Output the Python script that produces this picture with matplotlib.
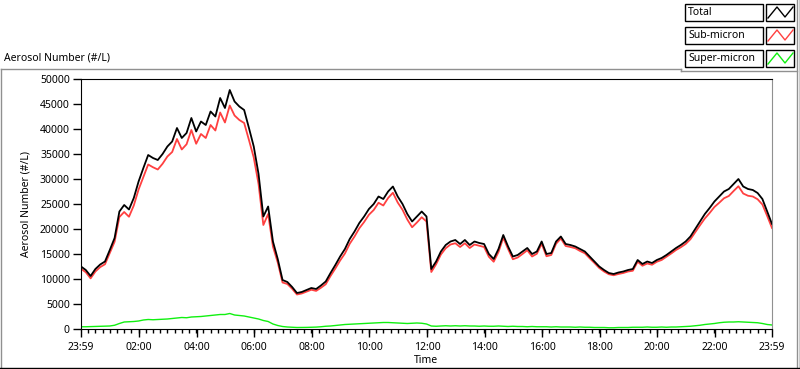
import numpy as np
import matplotlib
matplotlib.use('Agg')
import matplotlib.pyplot as plt
from matplotlib.lines import Line2D
from matplotlib.patches import Rectangle

plt.rcParams['font.family'] = ['Noto Sans', 'DejaVu Sans']

# hours since 23:59, sampled every 10 min
total = [12500, 11800, 10600, 12000, 12900, 13500,
         15800, 18200, 23500, 24800, 23900, 26200,
         29500, 32200, 34800, 34200, 33800, 35000,
         36500, 37500, 40200, 38200, 39200, 42200,
         39500, 41500, 40800, 43500, 42500, 46200,
         44200, 47800, 45500, 44500, 43800, 40200,
         36500, 31000, 22500, 24500, 17500, 14000,
         9800, 9400, 8400, 7200, 7400, 7800,
         8200, 8000, 8700, 9500, 11200, 12800,
         14500, 16000, 18000, 19500, 21200, 22500,
         24000, 25000, 26500, 26000, 27500, 28500,
         26500, 25000, 23000, 21500, 22500, 23500,
         22500, 12000, 13500, 15500, 16800, 17500,
         17800, 17000, 17800, 16800, 17500, 17200,
         17000, 15000, 14000, 16000, 18800, 16500,
         14500, 14800, 15500, 16200, 15000, 15500,
         17500, 15000, 15200, 17500, 18500, 17000,
         16800, 16500, 16000, 15500, 14500, 13500,
         12500, 11800, 11200, 11000, 11300, 11500,
         11800, 12000, 13800, 13000, 13500, 13200,
         13800, 14200, 14800, 15500, 16200, 16800,
         17500, 18500, 20000, 21500, 23000, 24200,
         25500, 26500, 27500, 28000, 29000, 30000,
         28500, 28000, 27800, 27200, 26000, 23500,
         21000]

sub_micron = [12050, 11350, 10120, 11500, 12380, 12950,
              15200, 17450, 22400, 23400, 22450, 24700,
              27900, 30400, 32900, 32350, 31900, 33050,
              34500, 35400, 38000, 35900, 36950, 39800,
              37050, 39000, 38200, 40800, 39700, 43300,
              41300, 44700, 42700, 41800, 41200, 37800,
              34300, 29000, 20800, 23000, 16500, 13300,
              9300, 9000, 8050, 6900, 7100, 7480,
              7850, 7620, 8250, 8950, 10600, 12100,
              13700, 15100, 17050, 18500, 20150, 21400,
              22850, 23800, 25250, 24700, 26200, 27250,
              25300, 23850, 21900, 20350, 21300, 22350,
              21500, 11400, 12950, 14900, 16150, 16900,
              17150, 16400, 17150, 16200, 16900, 16650,
              16400, 14450, 13450, 15400, 18250, 16000,
              13950, 14300, 15000, 15750, 14500, 15050,
              17050, 14550, 14800, 17050, 18100, 16600,
              16400, 16150, 15600, 15150, 14150, 13200,
              12200, 11500, 10950, 10750, 11000, 11200,
              11500, 11650, 13450, 12650, 13100, 12850,
              13450, 13800, 14450, 15100, 15800, 16350,
              17000, 17950, 19350, 20750, 22100, 23200,
              24400, 25250, 26150, 26600, 27600, 28550,
              27100, 26650, 26500, 25950, 24900, 22600,
              20200]

super_micron = [450, 450, 480, 500, 520, 550,
                600, 750, 1100, 1400, 1450, 1500,
                1600, 1800, 1900, 1850, 1900, 1950,
                2000, 2100, 2200, 2300, 2250, 2400,
                2450, 2500, 2600, 2700, 2800, 2900,
                2900, 3100, 2800, 2700, 2600, 2400,
                2200, 2000, 1700, 1500, 1000, 700,
                500, 400, 350, 300, 300, 320,
                350, 380, 450, 550, 600, 700,
                800, 900, 950, 1000, 1050, 1100,
                1150, 1200, 1250, 1300, 1300, 1250,
                1200, 1150, 1100, 1150, 1200, 1150,
                1000, 600, 550, 600, 650, 600,
                650, 600, 650, 600, 600, 550,
                600, 550, 550, 600, 550, 500,
                550, 500, 500, 450, 500, 450,
                450, 450, 400, 450, 400, 400,
                400, 350, 400, 350, 350, 300,
                300, 300, 250, 250, 300, 300,
                300, 350, 350, 350, 400, 350,
                350, 400, 350, 400, 400, 450,
                500, 550, 650, 750, 900, 1000,
                1100, 1250, 1350, 1400, 1400, 1450,
                1400, 1350, 1300, 1250, 1100, 900,
                800]

tick_labels = ['23:59', '02:00', '04:00', '06:00', '08:00', '10:00', '12:00',
               '14:00', '16:00', '18:00', '20:00', '22:00', '23:59']

hours = np.linspace(0, 24, len(total))
W, H = 800, 369
red = '#ff4040'
green = '#10f010'

fig = plt.figure(figsize=(8, 3.69), dpi=100)
ax = fig.add_axes([81/W, 1-329/H, (772-81)/W, (329-79)/H])

ax.plot(hours, sub_micron, color=red, lw=1.3)
ax.plot(hours, total, color='black', lw=1.3)
ax.plot(hours, super_micron, color=green, lw=1)

ax.set_xlim(0, 24)
ax.set_ylim(0, 50000)
ax.set_yticks(np.arange(0, 50001, 5000))
major = [0] + [h + 1/60 for h in range(2, 23, 2)] + [24]
ax.set_xticks(major)
ax.set_xticklabels(tick_labels)
ax.set_xticks(np.arange(0, 24.01, 0.25), minor=True)
ax.tick_params(axis='y', length=6, width=1, pad=2, labelsize=7.5)
ax.tick_params(axis='x', which='major', length=6, width=1, pad=3, labelsize=7.5)
ax.tick_params(axis='x', which='minor', length=3, width=1)
for s in ['left', 'top', 'bottom']:
    ax.spines[s].set_color('black')
ax.spines['right'].set_color('#909090')
ax.set_ylabel('Aerosol Number (#/L)', fontsize=7.5, labelpad=6)
ax.set_xlabel('Time', fontsize=7.5, labelpad=2)

def px(x, y):
    return x / W, 1 - y / H

# title above the graph
fig.text(*px(4, 58), 'Aerosol Number (#/L)', fontsize=7.5, va='center', ha='left')

# outer panel frame
for (x0, y0, x1, y1, c) in [(0.5, 69, 681, 69, '#909090'),
                            (681, 69, 681, 71, '#909090'),
                            (681, 71, 797, 71, '#909090'),
                            (0.5, 69, 0.5, 369, '#909090'),
                            (797, 0, 797, 369, '#909090'),
                            (0, 367.5, 800, 367.5, 'black'),
                            (799.5, 0, 799.5, 369, 'black')]:
    a, b = px(x0, y0)
    c2, d = px(x1, y1)
    fig.add_artist(Line2D([a, c2], [b, d], color=c, lw=1))

# legend boxes
names = ['Total', 'Sub-micron', 'Super-micron']
colors = ['black', red, green]
for i, (name, col) in enumerate(zip(names, colors)):
    top = 4 + i * 23
    x0, y0 = px(685, top + 17)
    fig.add_artist(Rectangle((x0, y0), 78/W, 17/H, transform=fig.transFigure,
                             fill=False, edgecolor='black', lw=1))
    fig.text(*px(688, top + 8.5), name, fontsize=7.5, va='center', ha='left')
    x0, y0 = px(766, top + 17)
    fig.add_artist(Rectangle((x0, y0), 28/W, 17/H, transform=fig.transFigure,
                             fill=False, edgecolor='black', lw=1))
    zx = [768, 777, 785, 793]
    zy = [top + 14, top + 3, top + 13, top + 3]
    fig.add_artist(Line2D([v / W for v in zx], [1 - v / H for v in zy],
                          color=col, lw=1))

fig.savefig('out.png', dpi=100)
